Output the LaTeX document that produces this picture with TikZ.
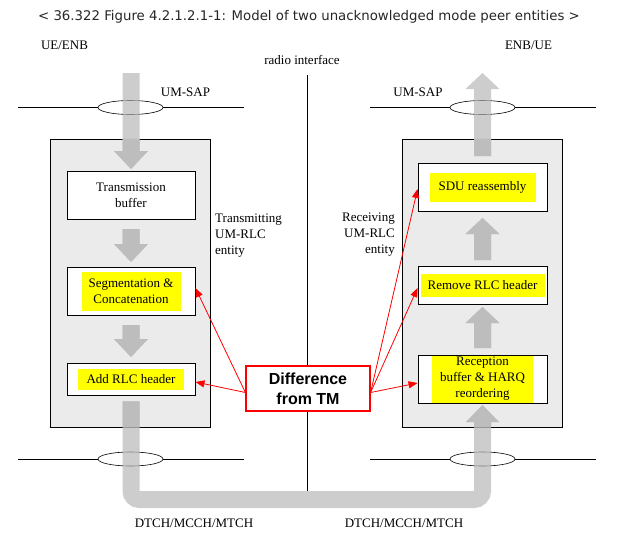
\documentclass[tikz,border=0pt]{standalone}
\usepackage{fontspec}
\setmainfont{Liberation Serif}
\newfontfamily\captionfnt{DejaVu Sans}
\newfontfamily\notefnt{Liberation Sans}
\usepackage{tikz}
\usetikzlibrary{positioning}
\usetikzlibrary{arrows.meta}
\definecolor{boxgray}{HTML}{EBEBEB}
\definecolor{hlyellow}{HTML}{FFFF00}
\definecolor{flowmid}{HTML}{B8B8B8}
\definecolor{flowdark}{HTML}{BDBDBD}
\newcommand{\fatdown}[3]{% x, top of bar, tip
  \fill[fatarrow] (#1-8.5,#2) -- (#1+8.5,#2) -- (#1+8.5,#3-18) -- (#1+17,#3-18)
    -- (#1,#3) -- (#1-17,#3-18) -- (#1-8.5,#3-18) -- cycle;}
\newcommand{\fatup}[3]{% x, bottom of bar, tip
  \fill[fatarrow] (#1-8.5,#2) -- (#1+8.5,#2) -- (#1+8.5,#3+16) -- (#1+17,#3+16)
    -- (#1,#3) -- (#1-17,#3+16) -- (#1-8.5,#3+16) -- cycle;}
\newcommand{\flowarrows}{%
  \fatdown{131}{73}{169}
  \fatdown{131}{229}{262}
  \fatdown{131}{325}{357}
  \fatup{482.5}{156}{73}
  \fatup{482.5}{260}{218}
  \fatup{482.5}{348}{307}
  \draw[pipe] ([yshift=-6pt]addrlc.south) |- (chan) -| (482.5,422);
  \fill[fatarrow] (466,422) -- (499,422) -- (482.5,405) -- cycle;}
\newcommand{\sapring}[2]{% x, y
  \draw[line width=0.6pt] (#1,#2) ellipse [x radius=32.5, y radius=7];
  \draw[line width=0.8pt] (#1-112.5,#2) -- (#1-32.5,#2) (#1+32.5,#2) -- (#1+113.5,#2);}

\begin{document}
\begin{tikzpicture}[x=1pt, y=-1pt,
    every node/.style={font=\fontsize{13}{16}\selectfont, inner sep=0pt},
    entity/.style={draw, line width=0.7pt, fill=boxgray, minimum width=160pt, minimum height=288pt},
    blk/.style={draw, line width=0.9pt, fill=white, minimum width=128pt, minimum height=48pt, align=center},
    hl/.style={fill=hlyellow, align=center},
    fatarrow/.style={fill=flowmid, fill opacity=0.7},
    pipe/.style={draw=flowmid, draw opacity=0.7, line width=17pt, rounded corners=8.5pt},
    diffarr/.style={red, line width=0.8pt, -{Triangle[length=9pt, width=7pt]}}]
    \useasboundingbox (0,0) rectangle (625,547);

    \node[font=\captionfnt\fontsize{13.3}{16}\selectfont, text=black!85] (title) at (309,17)
      {< 36.322 Figure 4.2.1.2.1-1: Model of two unacknowledged mode peer entities >};
    \node (ue) at (64.5,45) {UE/ENB};
    \node (enb) at (528.5,45) {ENB/UE};
    \node (radio) at (302,60) {radio interface};

    % radio interface line
    \coordinate (rtop) at (307,75);
    \coordinate (rbot) at (307,491);
    \coordinate (chan) at (307,499.5);
    \draw[line width=0.8pt] (rtop) -- (rbot);

    % service access points
    \sapring{130.5}{107.5}
    \sapring{482.5}{107.5}
    \sapring{130.5}{459}
    \sapring{482.5}{459}
    \node (lsaplbl) at (185.5,92) {UM-SAP};
    \node (rsaplbl) at (418,92) {UM-SAP};

    % entities
    \node[entity] (lent) at (130.5,283) {};
    \node[entity] (rent) at (482.5,283) {};
    \node[anchor=west, align=left] (ltxt) at (215,236) {Transmitting\\UM-RLC\\entity};
    \node[anchor=east, align=right] (rtxt) at (395,235) {Receiving\\UM-RLC\\entity};

    \node[blk] (txbuf) at (131,195) {Transmission\\buffer};
    \node[blk] (seg) at (131,291) {};
    \node[hl, minimum width=99pt, minimum height=39pt] at (seg) {Segmentation \&\\Concatenation};
    \node[blk, minimum height=32pt] (addrlc) at (131,379) {};
    \node[hl, minimum width=106pt, minimum height=21pt] at (addrlc) {Add RLC header};

    \node[blk, minimum width=129pt] (sdu) at (482.5,187) {};
    \node[hl, minimum width=106pt, minimum height=29pt] at (sdu) {SDU reassembly};
    \node[blk, minimum width=129pt, minimum height=38pt] (rmrlc) at (482.5,285) {};
    \node[hl, minimum width=124pt, minimum height=23pt] at (rmrlc) {Remove RLC header};
    \node[blk, minimum width=129pt] (reorder) at (482.5,379) {};
    \node[hl, minimum width=101pt, minimum height=47pt] at (reorder) {Reception\\buffer \& HARQ\\reordering};

    % data flow, a shade darker where it crosses the entities
    \flowarrows
    \begin{scope}[fatarrow/.style={fill=flowdark},
        pipe/.style={draw=flowdark, line width=17pt, rounded corners=8.5pt}]
      \clip (lent.south west) rectangle (lent.north east)
            (rent.south west) rectangle (rent.north east);
      \flowarrows
    \end{scope}
    \node (lch) at (194,523) {DTCH/MCCH/MTCH};
    \node (rch) at (404,523) {DTCH/MCCH/MTCH};

    % difference from TM
    \node[draw=red, line width=1.2pt, fill=white, minimum width=124pt, minimum height=45pt,
      align=center, font=\notefnt\bfseries\fontsize{16}{20}\selectfont] (diff) at (308,388.5) {Difference\\from TM};
    \draw[diffarr] ([yshift=-4pt]diff.west) -- ([yshift=3pt]seg.east);
    \draw[diffarr] ([yshift=-4pt]diff.west) -- ([yshift=-3pt]addrlc.east);
    \draw[diffarr] ([yshift=-4pt]diff.east) -- ([yshift=-2pt]sdu.west);
    \draw[diffarr] ([yshift=-4pt]diff.east) -- ([yshift=-3pt]rmrlc.west);
    \draw[diffarr] ([yshift=-4pt]diff.east) -- ([yshift=-4pt]reorder.west);
\end{tikzpicture}
\end{document}
